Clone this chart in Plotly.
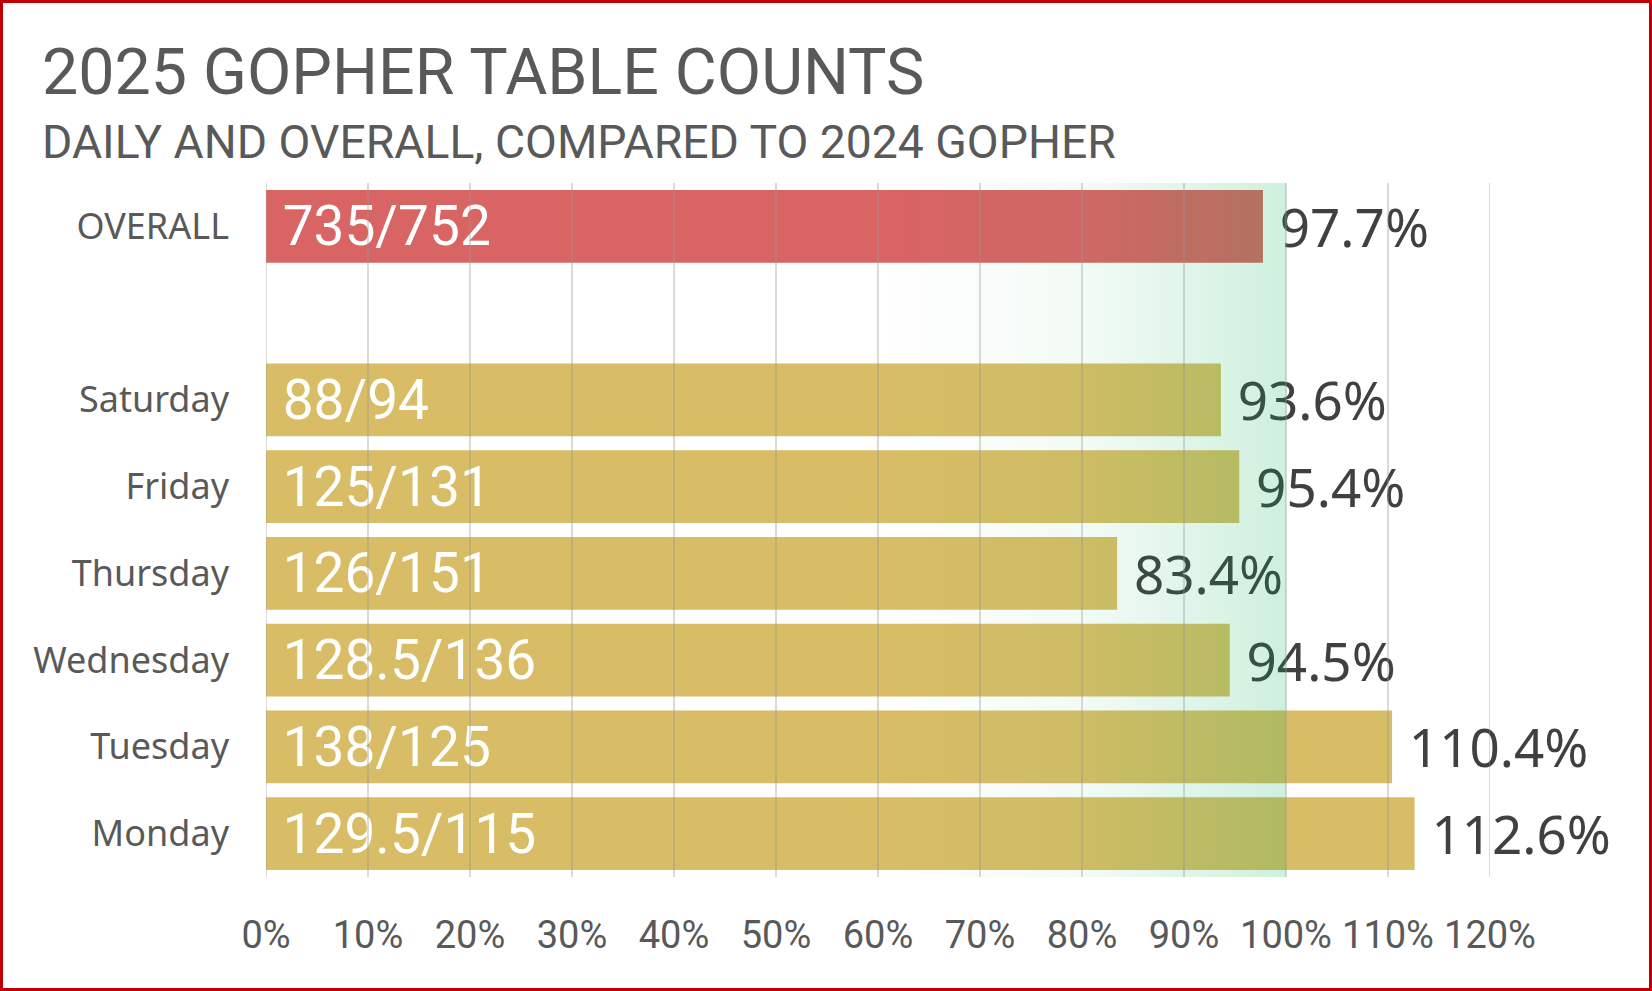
import plotly.graph_objects as go

# figure geometry (px)
W, H = 1652, 991
M_L, M_R, M_T, M_B = 266, 162, 183, 114

# data
days = ["Saturday", "Friday", "Thursday", "Wednesday", "Tuesday", "Monday"]
tables_2025 = [88, 125, 126, 128.5, 138, 129.5]
tables_2024 = [94, 131, 151, 136, 125, 115]
overall_2025 = 735
overall_2024 = 752

title = "2025 GOPHER TABLE COUNTS"
subtitle = "DAILY AND OVERALL, COMPARED TO 2024 GOPHER"

X_MAX, X_STEP = 1.2, 0.1

RED = "#d96464"
GOLD = "#d8bd66"
GRID = "rgba(150,150,150,0.35)"
NBSP = "\u00a0"

labels = ["OVERALL"] + days
now = [overall_2025] + tables_2025
then = [overall_2024] + tables_2024
ratio = [a / b for a, b in zip(now, then)]
count_text = [f"{NBSP}{a:g}/{b:g}" for a, b in zip(now, then)]
pct_text = [f"{NBSP}{r * 100:.1f}%" for r in ratio]
colors = [RED] + [GOLD] * len(days)
cat_order = ["OVERALL", " "] + days

plot_w = W - M_L - M_R
plot_h = H - M_T - M_B


def px_x(px):
    return (px - M_L) / plot_w


def px_y(py):
    return (H - M_B - py) / plot_h


fig = go.Figure()

# coloured bars + percentage labels outside
fig.add_trace(go.Bar(
    y=labels, x=ratio, orientation="h", width=0.84,
    marker=dict(color=colors, line_width=0),
    text=pct_text, textposition="outside", constraintext="none",
    textfont=dict(family="Noto Sans", size=53, color="#404040"),
    cliponaxis=False, hoverinfo="skip",
))
# transparent copy carrying the count labels inside
fig.add_trace(go.Bar(
    y=labels, x=ratio, orientation="h", width=0.84,
    marker=dict(color="rgba(0,0,0,0)", line_width=0),
    text=count_text, textposition="inside", insidetextanchor="start",
    constraintext="none",
    textfont=dict(family="Roboto", size=55, color="white"),
    hoverinfo="skip",
))

# green fade toward 100%
BAND_START, BAND_END = 0.6, 1.0
fig.add_trace(go.Scatter(
    x=[BAND_START, BAND_END, BAND_END, BAND_START, BAND_START],
    y=[0, 0, 1, 1, 0], yaxis="y2",
    mode="none", fill="toself",
    fillgradient=dict(type="horizontal", colorscale=[
        [0.0, "rgba(0,176,80,0)"],
        [0.5, "rgba(0,176,80,0.05)"],
        [1.0, "rgba(0,176,80,0.19)"],
    ]),
    hoverinfo="skip", showlegend=False,
))

# gridlines sit on top of the bars in the original
n_grid = round(X_MAX / X_STEP)
for i in range(n_grid + 1):
    fig.add_shape(type="line", xref="x", yref="paper",
                  x0=i * X_STEP, x1=i * X_STEP, y0=0, y1=1,
                  line=dict(color=GRID, width=2), layer="above")

fig.add_annotation(text=title, xref="paper", yref="paper",
                   x=px_x(40), y=px_y(72), xanchor="left", yanchor="middle",
                   showarrow=False,
                   font=dict(family="Roboto", size=64.5, color="#595959"))
fig.add_annotation(text=subtitle, xref="paper", yref="paper",
                   x=px_x(40), y=px_y(142), xanchor="left", yanchor="middle",
                   showarrow=False,
                   font=dict(family="Roboto", size=46.3, color="#595959"))

# red frame around the whole picture
fig.add_shape(type="rect", xref="paper", yref="paper",
              x0=px_x(1.5), x1=px_x(W - 1.5), y0=px_y(H - 1.5), y1=px_y(1.5),
              line=dict(color="#c00000", width=3), layer="above")

fig.update_layout(
    width=W, height=H,
    margin=dict(l=M_L, r=M_R, t=M_T, b=M_B),
    paper_bgcolor="white", plot_bgcolor="white",
    barmode="overlay", showlegend=False,
    xaxis=dict(range=[0, X_MAX], dtick=X_STEP, tickformat=".0%",
               showgrid=False, zeroline=False, showline=False, ticks="",
               ticklabelstandoff=32,
               tickfont=dict(family="Roboto", size=38, color="#595959")),
    yaxis=dict(type="category", categoryorder="array", categoryarray=cat_order,
               range=[len(cat_order) - 0.5, -0.5],
               showgrid=False, zeroline=False, showline=False, ticks="",
               ticklabelstandoff=36,
               tickfont=dict(family="Noto Sans", size=36, color="#595959")),
    yaxis2=dict(overlaying="y", range=[0, 1], visible=False, fixedrange=True),
)

fig.write_html("out.html", config={"displayModeBar": False},
               post_script="document.body.style.margin='0';"
                           "document.body.style.overflow='hidden';")
